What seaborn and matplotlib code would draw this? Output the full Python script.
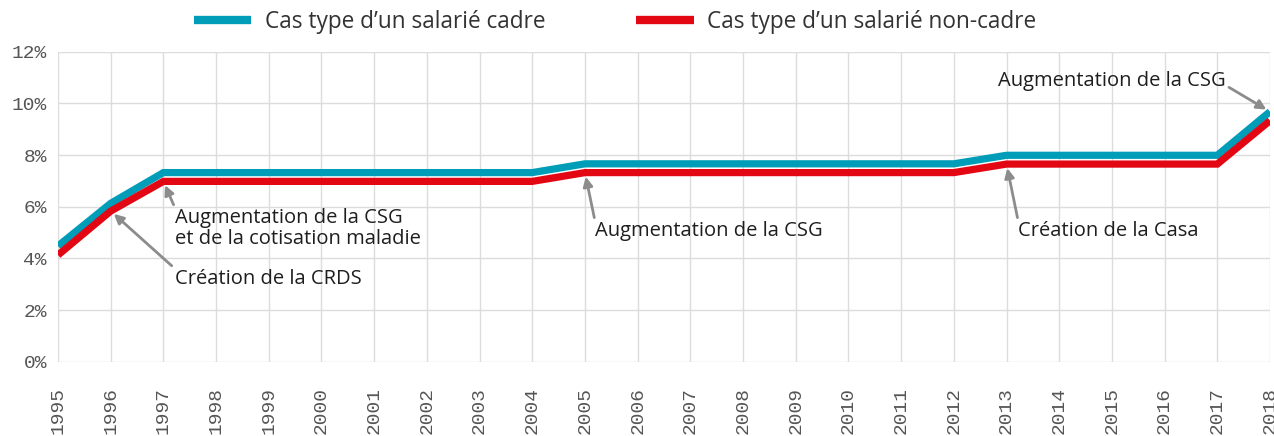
import numpy as np
import pandas as pd
import seaborn as sns
import matplotlib
matplotlib.use("Agg")
import matplotlib.pyplot as plt
from matplotlib.lines import Line2D

years = list(range(1995, 2019))
cadre = [4.48, 6.13] + [7.32] * 8 + [7.66] * 8 + [7.99] * 5 + [9.68]
non_cadre = [4.13, 5.83] + [6.98] * 8 + [7.32] * 8 + [7.65] * 5 + [9.33]
series_names = ["Cas type d’un salarié cadre", "Cas type d’un salarié non-cadre"]
colors = ["#009DB8", "#E30613"]
y_ticks = [0, 2, 4, 6, 8, 10, 12]
y_labels = ["0%", "2%", "4%", "6%", "8%", "10%", "12%"]

df = pd.DataFrame({
    "annee": years * 2,
    "taux": cadre + non_cadre,
    "serie": [series_names[0]] * len(years) + [series_names[1]] * len(years),
})

sns.set_theme(style="white")
txt_font = "Open Sans"
mono = "Liberation Mono"
grid_c = "#dcdcdc"

fig = plt.figure(figsize=(12.74, 4.36), dpi=100)
ax = fig.add_axes([58 / 1274, 1 - 361.7 / 436, (1270 - 58) / 1274, (361.7 - 51.7) / 436])

sns.lineplot(data=df, x="annee", y="taux", hue="serie", palette=colors,
             linewidth=5.2, ax=ax, legend=False)
for ln in ax.lines:
    ln.set_solid_joinstyle("miter")
    ln.set_solid_capstyle("butt")

ax.set_xlim(1995, 2018)
ax.set_ylim(0, 12)
ax.set_xticks(years)
ax.set_xticklabels([str(y) for y in years], rotation=90, fontfamily=mono,
                   fontsize=14, color="#555555")
ax.set_yticks(y_ticks)
ax.set_yticklabels(y_labels, fontfamily=mono, fontsize=14, color="#555555")
ax.tick_params(axis="x", length=13, width=1, color=grid_c, pad=5)
ax.tick_params(axis="y", length=0, pad=8)
ax.grid(True, color=grid_c, linewidth=1)
ax.set_axisbelow(True)
for s in ax.spines.values():
    s.set_visible(False)
ax.set_xlabel("")
ax.set_ylabel("")

arrow = dict(arrowstyle="-|>", color="#8c8c8c", lw=2, mutation_scale=14,
             shrinkA=0, shrinkB=3)

def note(text, xy, xytext, ha="left", va="top", relpos=(0, 1)):
    ap = dict(arrow)
    ap["relpos"] = relpos
    ax.annotate(text, xy=xy, xytext=xytext, ha=ha, va=va, fontsize=14.5,
                fontfamily=txt_font, color="#1e1e1e", arrowprops=ap,
                linespacing=1.1, annotation_clip=False)

note("Création de la CRDS", (1996, non_cadre[1]), (1997.22, 3.6))
note("Augmentation de la CSG\net de la cotisation maladie", (1997, non_cadre[2]), (1997.22, 5.95))
note("Augmentation de la CSG", (2005, non_cadre[10]), (2005.19, 5.45))
note("Création de la Casa", (2013, non_cadre[18]), (2013.22, 5.45))
note("Augmentation de la CSG", (2018, cadre[23]), (2017.16, 10.85),
     ha="right", va="center", relpos=(1, 0.3))

handles = [Line2D([], [], color=c, lw=6, solid_capstyle="butt") for c in colors]
fig.legend(handles, series_names, loc="center", bbox_to_anchor=(615 / 1274, 1 - 22 / 436),
           ncol=2, frameon=False, handlelength=2.55, handletextpad=0.6, columnspacing=4.0,
           prop={"family": txt_font, "size": 16.3}, labelcolor="#333333")

fig.savefig("out.png", dpi=100)
